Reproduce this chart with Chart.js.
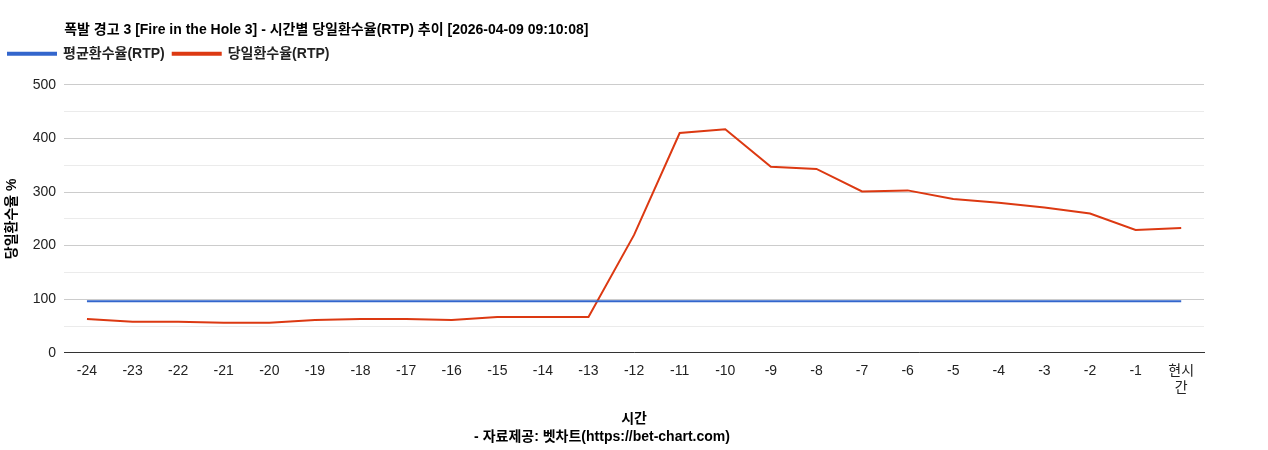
<!DOCTYPE html>
<html><head><meta charset="utf-8">
<script src="https://cdn.jsdelivr.net/npm/chart.js@4/dist/chart.umd.min.js"></script>
<style>body{margin:0;background:#fff}#wrap{width:1268px;height:450px}</style>
</head><body><div id="wrap"><canvas id="c"></canvas></div>
<script>
const labels = ["-24","-23","-22","-21","-20","-19","-18","-17","-16","-15","-14","-13","-12","-11","-10","-9","-8","-7","-6","-5","-4","-3","-2","-1",["현시","간"]];
const avgRtp = [96,96,96,96,96,96,96,96,96,96,96,96,96,96,96,96,96,96,96,96,96,96,96,96,96];
const dayRtp = [63,58,58,56,56,61,63,63,61,67,67,67,220,410,417,347,343,301,303,287,280,271,260,229,233];

const FONT = "'Liberation Sans', Arial, 'Noto Sans CJK KR', sans-serif";
Chart.defaults.font.family = FONT;
Chart.defaults.color = "#222";

// align title and legend with the plot's left edge, add space under the legend
const headerShift = {
  id: "headerShift",
  beforeUpdate(chart) {
    const lg = chart.legend;
    if (lg && !lg._patched) {
      const fit = lg.fit;
      lg.fit = function () { fit.call(this); this.height += 14; };
      lg._patched = true;
    }
  },
  afterLayout(chart) {
    const dx = chart.chartArea.left - chart.titleBlock.left;
    chart.titleBlock.left += dx; chart.titleBlock.right += dx;
    chart.legend.legendHitBoxes.forEach(b => { b.left += dx; });
  }
};

new Chart(document.getElementById("c"), {
  type: "line",
  data: {
    labels: labels,
    datasets: [
      { label: "평균환수율(RTP)", data: avgRtp, borderColor: "#3366cc", backgroundColor: "#3366cc", borderWidth: 2, pointRadius: 0 },
      { label: "당일환수율(RTP)", data: dayRtp, borderColor: "#dc3912", backgroundColor: "#dc3912", borderWidth: 2, pointRadius: 0 }
    ]
  },
  plugins: [headerShift],
  options: {
    responsive: true,
    maintainAspectRatio: false,
    animation: false,
    layout: { padding: { left: 0, right: 64, top: 22, bottom: 4 } },
    plugins: {
      title: { display: true, text: "폭발 경고 3 [Fire in the Hole 3] - 시간별 당일환수율(RTP) 추이 [2026-04-09 09:10:08]", align: "start", font: { size: 14, weight: "bold" }, color: "#000", padding: { top: 0, bottom: 0 } },
      legend: { align: "start", labels: { boxWidth: 48, boxHeight: 2, font: { size: 14, weight: "bold" }, color: "#222", padding: 8 } },
      subtitle: { display: true, position: "bottom", text: "- 자료제공: 벳차트(https://bet-chart.com)", font: { size: 14, weight: "bold" }, color: "#000", padding: { top: 2 } }
    },
    scales: {
      x: {
        offset: true,
        grid: { display: false, drawTicks: false },
        border: { color: "#333" },
        ticks: { font: { size: 14 }, color: "#222", maxRotation: 0, autoSkip: false, padding: 10 },
        title: { display: true, text: "시간", font: { size: 14, weight: "bold" }, color: "#000", padding: { top: 4, bottom: 0 } }
      },
      y: {
        min: 0, max: 500,
        ticks: { stepSize: 50, font: { size: 14 }, color: "#222", padding: 8, callback: v => v % 100 === 0 ? v : "" },
        grid: { drawTicks: false, color: ctx => ctx.tick && ctx.tick.value % 100 === 0 ? "#cccccc" : "#ebebeb" },
        border: { display: false },
        title: { display: true, text: "당일환수율 %", font: { size: 14, weight: "bold" }, color: "#000" }
      }
    }
  }
});
</script></body></html>
